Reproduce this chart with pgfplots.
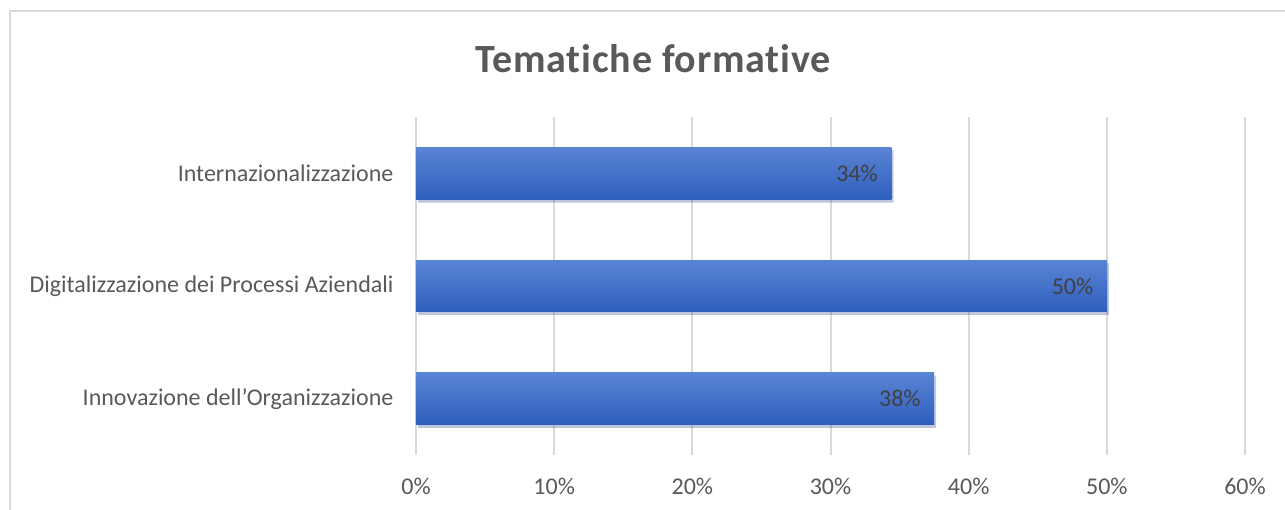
\documentclass[border=0pt]{standalone}
\usepackage{fontspec}
\setmainfont{Carlito}
\usepackage{pgfplots}
\pgfplotsset{compat=1.18}
\usepackage{pgfplotstable}
\usetikzlibrary{shadows}

\definecolor{txtgray}{RGB}{89,89,89}
\definecolor{lblgray}{RGB}{64,64,64}
\definecolor{gridgray}{RGB}{217,217,217}
\definecolor{bartop}{RGB}{90,132,212}
\definecolor{barbot}{RGB}{46,94,190}

% one table per bar, so each bar gets its own gradient
\pgfplotstableread{
y x lab
0 37.5 38\%
}\innov
\pgfplotstableread{
y x lab
1 50.0 50\%
}\digit
\pgfplotstableread{
y x lab
2 34.4 34\%
}\inter

\pgfplotsset{
  barsty/.style={
    draw=none, top color=bartop, bottom color=barbot,
    drop shadow={shadow xshift=2pt, shadow yshift=-3pt, opacity=0.22},
    nodes near coords, point meta=explicit symbolic,
  },
}

\begin{document}
\begin{tikzpicture}
\useasboundingbox (0pt,0pt) rectangle (1285pt,510pt);
\fill[white] (0pt,0pt) rectangle (1285pt,510pt);
\draw[gridgray, line width=2.5pt] (10pt,-10pt) -- (10pt,499pt) -- (1300pt,499pt);
\node[font=\fontsize{40}{46}\selectfont\bfseries\addfontfeature{LetterSpace=2,Ligatures=NoCommon}, text=txtgray] at (653pt,451pt) {Tematiche formative};
\begin{axis}[
  at={(416pt,55pt)}, anchor=south west,
  scale only axis, width=829pt, height=338pt,
  xbar, bar width=0.46, bar shift=0pt,
  xmin=0, xmax=60, ymin=-0.5, ymax=2.5,
  axis line style={draw=none},
  major tick length=0pt,
  xtick={0,10,...,60},
  xticklabels={0\%,10\%,20\%,30\%,40\%,50\%,60\%},
  ytick={0,1,2},
  yticklabels={Innovazione dell’Organizzazione,Digitalizzazione dei Processi Aziendali,Internazionalizzazione},
  xmajorgrids, grid style={gridgray, line width=2pt},
  ymajorgrids=false,
  tick label style={font=\fontsize{24}{28}\selectfont, text=txtgray},
  xticklabel style={yshift=-20pt},
  yticklabel style={xshift=-19pt},
  nodes near coords align={anchor=east},
  every node near coord/.append style={anchor=east, xshift=-10pt, font=\fontsize{24}{28}\selectfont, text=lblgray},
  clip=false,
]
\addplot[barsty] table[x=x, y=y, meta=lab] {\innov};
\addplot[barsty] table[x=x, y=y, meta=lab] {\digit};
\addplot[barsty] table[x=x, y=y, meta=lab] {\inter};
\end{axis}
\end{tikzpicture}
\end{document}
